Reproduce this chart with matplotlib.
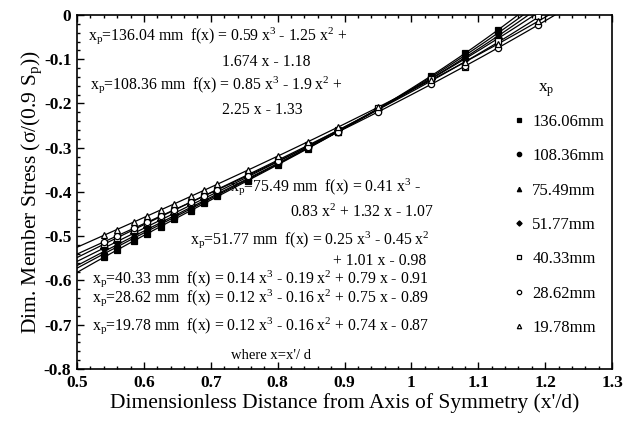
import numpy as np
import matplotlib
matplotlib.use("Agg")
import matplotlib.pyplot as plt
from matplotlib.ticker import MultipleLocator, FuncFormatter

plt.rcParams['font.family'] = ['Liberation Serif', 'DejaVu Serif']
plt.rcParams['mathtext.fontset'] = 'custom'
plt.rcParams['mathtext.rm'] = 'Liberation Serif'
plt.rcParams['mathtext.it'] = 'Liberation Serif:italic'
plt.rcParams['axes.unicode_minus'] = False

# ---- data ----
x_pts = [0.54, 0.56, 0.585, 0.605, 0.625, 0.645, 0.67, 0.69, 0.71, 0.755,
         0.80, 0.845, 0.89, 0.95, 1.03, 1.08, 1.13, 1.19]

legend_labels = ["136.06mm", "108.36mm", "75.49mm", "51.77mm",
                 "40.33mm", "28.62mm", "19.78mm"]

y_136 = [-0.548, -0.531, -0.510, -0.494, -0.478, -0.462, -0.442, -0.426, -0.410, -0.375,
         -0.339, -0.302, -0.264, -0.212, -0.137, -0.087, -0.033, 0.036]
y_108 = [-0.540, -0.524, -0.504, -0.489, -0.473, -0.458, -0.438, -0.423, -0.407, -0.372,
         -0.337, -0.301, -0.264, -0.213, -0.140, -0.091, -0.040, 0.025]
y_75 = [-0.535, -0.519, -0.500, -0.484, -0.469, -0.454, -0.435, -0.420, -0.405, -0.370,
        -0.335, -0.300, -0.264, -0.214, -0.143, -0.096, -0.047, 0.016]
y_51 = [-0.527, -0.512, -0.493, -0.478, -0.464, -0.449, -0.430, -0.415, -0.400, -0.366,
        -0.332, -0.297, -0.261, -0.212, -0.144, -0.099, -0.053, 0.006]
y_40 = [-0.517, -0.503, -0.485, -0.471, -0.456, -0.442, -0.424, -0.409, -0.395, -0.362,
        -0.328, -0.294, -0.259, -0.211, -0.145, -0.118, -0.058, -0.003]
y_28 = [-0.513, -0.499, -0.482, -0.468, -0.455, -0.441, -0.423, -0.409, -0.395, -0.363,
        -0.331, -0.298, -0.265, -0.219, -0.156, -0.116, -0.074, -0.022]
y_19 = [-0.498, -0.485, -0.468, -0.454, -0.441, -0.427, -0.410, -0.396, -0.382, -0.351,
        -0.319, -0.287, -0.254, -0.209, -0.146, -0.106, -0.065, -0.014]

series = [y_136, y_108, y_75, y_51, y_40, y_28, y_19]
markers = ['s', 'o', '^', 'D', 's', 'o', '^']
filled = [True, True, True, True, False, False, False]

x_ticks = [0.5, 0.6, 0.7, 0.8, 0.9, 1.0, 1.1, 1.2, 1.3]
y_ticks = [0, -0.1, -0.2, -0.3, -0.4, -0.5, -0.6, -0.7, -0.8]

fig = plt.figure(figsize=(6.24, 4.22), dpi=100)
ax = fig.add_axes([0.1234, 0.1256, 0.8574, 0.8389])

xs_fit = np.linspace(0.5, 1.25, 300)
handles = []
for ys, m, f, lab in zip(series, markers, filled, legend_labels):
    c = np.polyfit(x_pts, ys, 3)
    ax.plot(xs_fit, np.polyval(c, xs_fit), color='black', lw=0.9, zorder=2)
    ms = 4.5 if m != 'D' else 3.8
    h, = ax.plot(x_pts, ys, linestyle='none', marker=m, ms=ms,
                 markerfacecolor='black' if f else 'white',
                 markeredgecolor='black', markeredgewidth=0.9, zorder=3, label=lab)
    handles.append(h)

ax.set_xlim(0.5, 1.3)
ax.set_ylim(-0.8, 0)
ax.set_xticks(x_ticks)
ax.set_yticks(y_ticks)
ax.xaxis.set_minor_locator(MultipleLocator(0.02))
ax.yaxis.set_minor_locator(MultipleLocator(0.02))
fmt = FuncFormatter(lambda v, p: ('%g' % round(v, 3)) if abs(v) > 1e-9 else '0')
ax.xaxis.set_major_formatter(fmt)
ax.yaxis.set_major_formatter(fmt)
ax.tick_params(which='both', direction='in', top=True, right=False, width=1.0)
ax.tick_params(which='major', length=5, labelsize=12.5, pad=4)
ax.tick_params(which='minor', length=2.5)
for lbl in ax.get_xticklabels() + ax.get_yticklabels():
    lbl.set_fontweight('bold')
for s in ax.spines.values():
    s.set_linewidth(1.2)

ax.set_xlabel("Dimensionless Distance from Axis of Symmetry (x'/d)", fontsize=15.5, labelpad=2)
ax.set_ylabel(r"Dim. Member Stress ($\mathregular{\sigma}$/(0.9 S$_\mathregular{p}$))", fontsize=15.5, labelpad=0)

fs = 11.3
def txt(x, y, s):
    ax.text(x, y, s, fontsize=fs, ha='left', va='baseline', zorder=4)

txt(0.516, -0.055, r"x$_\mathregular{p}$=136.04 mm  f(x) = 0.59 x$^\mathregular{3}$ - 1.25 x$^\mathregular{2}$ +")
txt(0.717, -0.116, "1.674 x - 1.18")
txt(0.519, -0.167, r"x$_\mathregular{p}$=108.36 mm  f(x) = 0.85 x$^\mathregular{3}$ - 1.9 x$^\mathregular{2}$ +")
txt(0.717, -0.224, "2.25 x - 1.33")
txt(0.729, -0.397, r"x$_\mathregular{p}$=75.49 mm  f(x) = 0.41 x$^\mathregular{3}$ -")
txt(0.818, -0.456, r"0.83 x$^\mathregular{2}$ + 1.32 x - 1.07")
txt(0.669, -0.516, r"x$_\mathregular{p}$=51.77 mm  f(x) = 0.25 x$^\mathregular{3}$ - 0.45 x$^\mathregular{2}$")
txt(0.883, -0.565, "+ 1.01 x - 0.98")
txt(0.522, -0.605, r"x$_\mathregular{p}$=40.33 mm  f(x) = 0.14 x$^\mathregular{3}$ - 0.19 x$^\mathregular{2}$ + 0.79 x - 0.91")
txt(0.522, -0.648, r"x$_\mathregular{p}$=28.62 mm  f(x) = 0.12 x$^\mathregular{3}$ - 0.16 x$^\mathregular{2}$ + 0.75 x - 0.89")
txt(0.522, -0.711, r"x$_\mathregular{p}$=19.78 mm  f(x) = 0.12 x$^\mathregular{3}$ - 0.16 x$^\mathregular{2}$ + 0.74 x - 0.87")
ax.text(0.73, -0.777, "where x=x'/ d", fontsize=10.5, ha='left', va='baseline')

ax.text(1.19, -0.174, r"x$_\mathregular{p}$", fontsize=12.5, ha='left', va='baseline')
leg = ax.legend(handles=handles, loc='upper left',
                bbox_to_anchor=(0.795, 0.7535), frameon=False, fontsize=12,
                markerscale=0.7, handlelength=0.6,
                handletextpad=0.5, labelspacing=1.1, borderpad=0.2)

fig.savefig("out.png", dpi=100)
